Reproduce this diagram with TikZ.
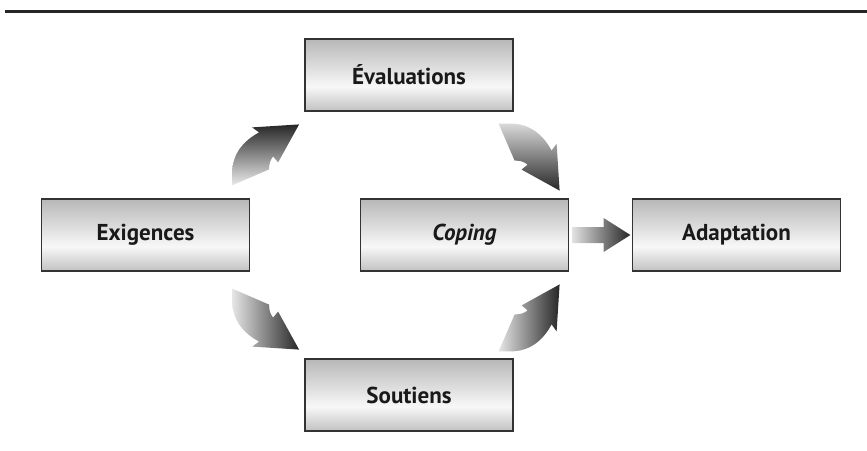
\documentclass[tikz,border=0pt]{standalone}
\usepackage{fontspec}
\setmainfont{PT Sans}
\usetikzlibrary{positioning,calc}

\pgfdeclareverticalshading{boxfill}{100bp}{color(0bp)=(black!24); color(25bp)=(black!24); color(42bp)=(black!3); color(75bp)=(black!28); color(100bp)=(black!28)}

\tikzset{
  bentarrow/.pic={
    \shade (0,0) -- (0,-12) .. controls (0,-32) and (12,-45) .. (27,-53)
      -- (20,-58) -- (67,-61) -- (46,-23) -- (41,-29)
      .. controls (38,-25) and (37,-22) .. (37,-16) -- cycle;
  }
}

\begin{document}
\begin{tikzpicture}[x=1pt,y=-1pt,on grid,
    box/.style={draw=black!80, line width=1.2pt, shading=boxfill,
      minimum width=208pt, minimum height=72pt, text=black!90,
      font=\fontsize{23}{27}\selectfont\bfseries}]
  \useasboundingbox (0,0) rectangle (867,450);
  \draw[line width=3pt, black!85] (5,11.5) -- (867,11.5);

  \node[box] (exig) at (145.5,235) {Exigences};
  \node[box] (coping) [right=319pt of exig] {\textit{Coping}};
  \node[box] (adapt) [right=272pt of coping] {Adaptation};
  \node[box] (eval) at (409,75) {Évaluations};
  \node[box] (sout) [below=320pt of eval] {Soutiens};

  % curved arrows
  \pic[top color=black!85, bottom color=black!8]
    at ($(exig.north east)+(-18,-13)$) {bentarrow};
  \pic[rotate=-90, top color=black!15, bottom color=black!85]
    at ($(eval.south east)+(-15,12)$) {bentarrow};
  \pic[yscale=-1, left color=black!10, right color=black!85]
    at ($(exig.south east)+(-18,17)$) {bentarrow};
  \pic[yscale=-1, rotate=-90, left color=black!10, right color=black!85]
    at ($(sout.north east)+(-15,-7)$) {bentarrow};

  % straight arrow
  \shade[left color=black!12, right color=black!85]
    ($(coping.east)+(3.5,-8)$) -- ++(31,0) -- ++(0,-9)
    -- ($(adapt.west)+(-1.5,0)$) -- ($(coping.east)+(34.5,17)$)
    -- ++(0,-9) -- ($(coping.east)+(3.5,8)$) -- cycle;
\end{tikzpicture}
\end{document}
